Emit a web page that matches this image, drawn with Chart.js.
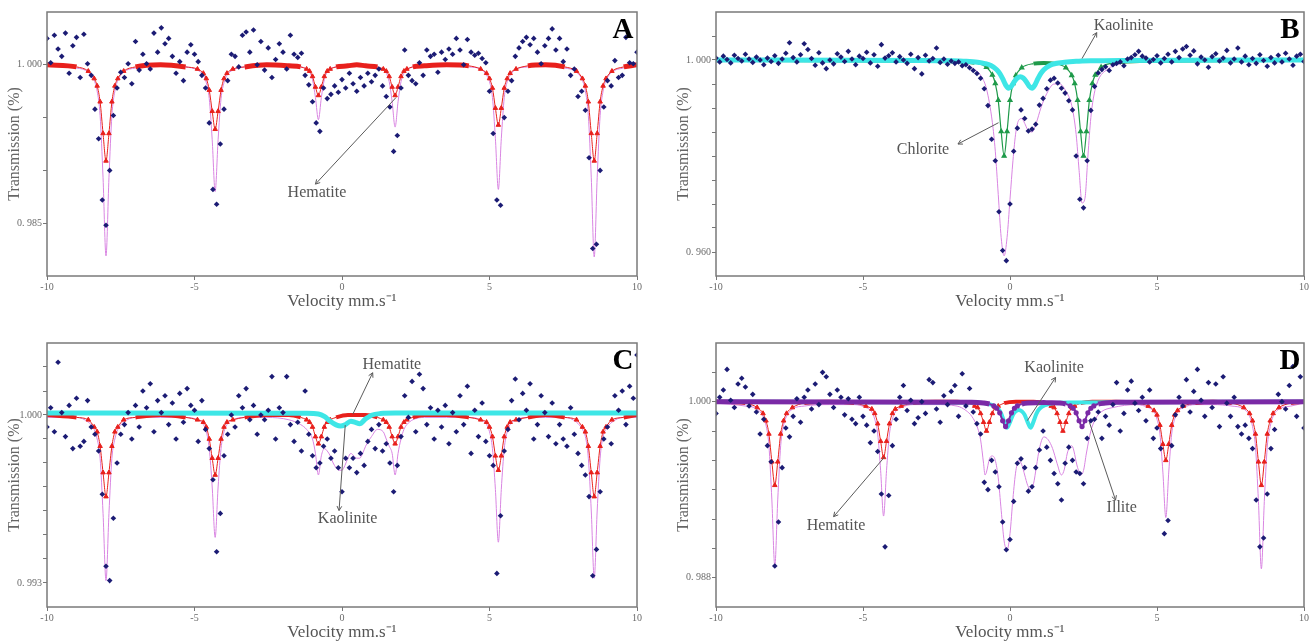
<!DOCTYPE html>
<html><head><meta charset="utf-8">
<script src="https://cdn.jsdelivr.net/npm/chart.js@4.4.1/dist/chart.umd.min.js"></script>
<style>
html,body{margin:0;padding:0;background:#fff;width:1314px;height:644px;overflow:hidden}
canvas{position:absolute}
</style></head><body>
<canvas id="cA" width="645" height="313" style="left:0;top:0"></canvas>
<canvas id="cB" width="645" height="313" style="left:669px;top:0"></canvas>
<canvas id="cC" width="645" height="313" style="left:0;top:331px"></canvas>
<canvas id="cD" width="645" height="313" style="left:669px;top:331px"></canvas>
<script>
// ---------- measured channels (velocity, mm/s) ----------
const velocity = [
-10,-9.875,-9.75,-9.625,-9.5,-9.375,-9.25,-9.125,
-9,-8.875,-8.75,-8.625,-8.5,-8.375,-8.25,-8.125,
-8,-7.875,-7.75,-7.625,-7.5,-7.375,-7.25,-7.125,
-7,-6.875,-6.75,-6.625,-6.5,-6.375,-6.25,-6.125,
-6,-5.875,-5.75,-5.625,-5.5,-5.375,-5.25,-5.125,
-5,-4.875,-4.75,-4.625,-4.5,-4.375,-4.25,-4.125,
-4,-3.875,-3.75,-3.625,-3.5,-3.375,-3.25,-3.125,
-3,-2.875,-2.75,-2.625,-2.5,-2.375,-2.25,-2.125,
-2,-1.875,-1.75,-1.625,-1.5,-1.375,-1.25,-1.125,
-1,-0.875,-0.75,-0.625,-0.5,-0.375,-0.25,-0.125,
0,0.125,0.25,0.375,0.5,0.625,0.75,0.875,
1,1.125,1.25,1.375,1.5,1.625,1.75,1.875,
2,2.125,2.25,2.375,2.5,2.625,2.75,2.875,
3,3.125,3.25,3.375,3.5,3.625,3.75,3.875,
4,4.125,4.25,4.375,4.5,4.625,4.75,4.875,
5,5.125,5.25,5.375,5.5,5.625,5.75,5.875,
6,6.125,6.25,6.375,6.5,6.625,6.75,6.875,
7,7.125,7.25,7.375,7.5,7.625,7.75,7.875,
8,8.125,8.25,8.375,8.5,8.625,8.75,8.875,
9,9.125,9.25,9.375,9.5,9.625,9.75,9.875,
10];

// ---------- measured transmission ----------
const measuredA = [
1.0025,1.0002,1.0028,1.0015,1.0008,1.0030,0.9992,1.0018,
1.0026,0.9988,1.0029,1.0001,0.9990,0.9958,0.9930,0.9872,
0.9848,0.9900,0.9952,0.9978,0.9993,0.9988,1.0001,0.9982,
1.0022,0.9995,1.0010,1.0001,0.9996,1.0030,1.0012,1.0035,
1.0020,1.0025,1.0008,0.9992,1.0003,0.9985,1.0012,1.0019,
1.0010,1.0003,0.9990,0.9978,0.9945,0.9882,0.9868,0.9925,
0.9958,0.9985,1.0010,1.0008,0.9998,1.0028,1.0031,1.0012,
1.0033,1.0000,1.0022,0.9995,1.0016,0.9988,1.0005,1.0020,
1.0012,0.9996,1.0028,1.0010,1.0007,1.0011,0.9990,0.9981,
0.9965,0.9945,0.9937,0.9978,0.9968,0.9972,0.9980,0.9974,
0.9986,0.9978,0.9992,0.9982,0.9975,0.9988,0.9980,0.9992,
0.9984,0.9990,0.9996,0.9980,0.9970,0.9960,0.9918,0.9933,
0.9978,1.0014,0.9990,0.9985,0.9982,1.0002,0.9990,1.0014,
1.0008,1.0010,0.9993,1.0012,1.0005,1.0015,1.0010,1.0025,
1.0014,1.0000,1.0024,1.0012,1.0009,1.0011,1.0006,1.0002,
0.9975,0.9935,0.9872,0.9867,0.9950,0.9975,0.9985,1.0008,
1.0016,1.0022,1.0026,1.0019,1.0025,1.0012,1.0001,1.0018,
1.0025,1.0034,1.0014,1.0025,1.0003,1.0015,0.9990,0.9996,
0.9970,0.9975,0.9957,0.9912,0.9826,0.9830,0.9900,0.9960,
0.9985,0.9980,1.0004,0.9988,0.9990,1.0026,1.0002,1.0001,
1.0012];
const measuredB = [
1.0004,0.9996,1.0008,1.0001,0.9994,1.0010,1.0003,0.9998,
1.0012,1.0002,0.9995,1.0006,1.0000,0.9990,1.0004,0.9997,
1.0009,0.9993,1.0002,1.0014,1.0036,1.0005,0.9996,1.0011,
1.0034,1.0022,1.0003,0.9989,1.0015,0.9994,0.9982,1.0000,
0.9992,1.0013,1.0006,0.9997,1.0018,1.0002,0.9990,1.0008,
1.0003,1.0016,0.9994,1.0011,0.9987,1.0032,1.0004,1.0009,
1.0015,0.9996,1.0007,1.0000,0.9993,1.0012,0.9982,1.0005,
0.9971,1.0010,0.9998,1.0003,1.0025,0.9995,1.0002,0.9991,
0.9998,0.9993,0.9996,0.9988,0.9990,0.9984,0.9978,0.9972,
0.9962,0.9940,0.9905,0.9835,0.9790,0.9684,0.9603,0.9582,
0.9700,0.9810,0.9858,0.9896,0.9878,0.9852,0.9856,0.9866,
0.9906,0.9920,0.9940,0.9958,0.9962,0.9952,0.9941,0.9931,
0.9915,0.9896,0.9800,0.9710,0.9692,0.9790,0.9895,0.9945,
0.9973,0.9980,0.9986,0.9978,0.9990,0.9993,0.9996,0.9988,
1.0002,1.0005,1.0011,1.0018,1.0008,1.0004,0.9996,1.0001,
1.0009,0.9994,1.0003,1.0012,0.9996,1.0018,1.0005,1.0023,
1.0028,1.0010,1.0019,0.9992,1.0006,1.0000,0.9985,1.0007,
1.0013,0.9998,1.0004,1.0020,0.9994,1.0002,1.0025,0.9996,
1.0008,0.9990,1.0003,0.9993,1.0011,0.9999,0.9987,1.0005,
0.9994,1.0010,0.9996,1.0014,1.0002,0.9989,1.0008,1.0012,
0.9997];
const measuredC = [
0.9995,1.0003,0.9993,1.0022,1.0001,0.9991,1.0004,0.9986,
1.0007,0.9987,0.9989,1.0006,0.9995,0.9992,0.9985,0.9967,
0.9937,0.9931,0.9957,0.9980,0.9992,0.9996,1.0001,0.9990,
1.0004,0.9995,1.0010,1.0003,1.0013,0.9993,1.0006,1.0001,
1.0008,0.9996,1.0005,0.9990,1.0009,0.9997,1.0011,1.0004,
1.0002,0.9989,1.0006,0.9994,0.9986,0.9973,0.9943,0.9959,
0.9983,0.9992,1.0000,0.9995,1.0008,1.0003,1.0011,0.9998,
1.0004,0.9992,1.0000,0.9998,1.0002,1.0016,0.9990,1.0003,
1.0001,1.0016,0.9996,0.9989,0.9997,0.9985,1.0010,0.9992,
0.9983,0.9978,0.9980,0.9987,0.9990,0.9982,0.9985,0.9978,
0.9968,0.9982,0.9978,0.9982,0.9976,0.9984,0.9979,0.9989,
0.9994,0.9986,0.9996,0.9985,0.9988,0.9980,0.9968,0.9979,
0.9991,1.0008,0.9999,1.0014,0.9993,1.0017,1.0011,0.9996,
1.0003,0.9990,1.0002,0.9995,1.0004,0.9988,1.0001,0.9993,
1.0008,0.9996,1.0012,0.9984,1.0002,0.9991,1.0005,0.9989,
0.9983,0.9979,0.9934,0.9958,0.9985,0.9994,1.0006,1.0015,
0.9998,1.0009,1.0002,1.0013,0.9990,0.9996,1.0008,1.0001,
0.9991,1.0005,0.9988,0.9996,0.9990,0.9987,1.0003,0.9992,
0.9984,0.9979,0.9975,0.9966,0.9933,0.9944,0.9968,0.9990,
0.9995,0.9988,1.0008,1.0002,1.0010,0.9996,1.0012,1.0007,
1.0025];
const measuredD = [
0.9992,1.0003,1.0008,1.0022,1.0001,0.9996,1.0012,1.0016,
1.0010,0.9997,1.0005,0.9993,0.9978,0.9988,0.9970,0.9959,
0.9888,0.9918,0.9955,0.9982,0.9976,0.9990,1.0002,0.9986,
1.0003,1.0008,0.9995,1.0012,0.9998,1.0020,1.0017,1.0005,
0.9996,1.0008,1.0003,0.9991,1.0002,0.9988,0.9985,1.0003,
0.9990,0.9984,0.9972,0.9980,0.9966,0.9937,0.9901,0.9936,
0.9970,0.9988,1.0003,1.0011,0.9994,1.0001,0.9985,0.9989,
1.0000,0.9992,1.0015,1.0013,0.9995,0.9986,1.0004,0.9998,
1.0007,1.0011,0.9990,1.0019,0.9997,1.0009,0.9993,0.9985,
0.9978,0.9945,0.9940,0.9960,0.9952,0.9942,0.9918,0.9899,
0.9906,0.9932,0.9958,0.9961,0.9955,0.9939,0.9942,0.9955,
0.9967,0.9980,0.9969,0.9960,0.9951,0.9944,0.9933,0.9958,
0.9969,0.9960,0.9952,0.9951,0.9944,0.9975,0.9987,0.9988,
0.9993,0.9975,0.9990,0.9984,0.9998,1.0013,0.9980,0.9992,
1.0008,1.0014,0.9999,0.9994,1.0003,0.9987,1.0008,0.9975,
0.9982,0.9968,0.9910,0.9919,0.9970,0.9991,1.0003,0.9997,
1.0015,0.9993,1.0007,1.0022,1.0001,0.9990,1.0013,0.9996,
1.0012,0.9983,1.0017,0.9999,0.9990,1.0003,0.9983,0.9978,
0.9984,0.9975,0.9968,0.9933,0.9901,0.9907,0.9937,0.9968,
0.9981,1.0005,1.0000,0.9995,1.0011,1.0024,0.9990,1.0017,
0.9982];

// ---------- fitted sub-spectra ----------
const hemX = [-10,
 -9.0,-8.6,-8.4,-8.3,-8.2,-8.1,-8.0,-7.9,-7.8,-7.7,-7.6,-7.4,-7.0,
 -6.15,
 -5.3,-4.9,-4.7,-4.6,-4.5,-4.4,-4.3,-4.2,-4.1,-4.0,-3.9,-3.7,-3.3,
 -2.55,
 -1.8,-1.4,-1.2,-1.1,-1.0,-0.9,-0.8,-0.7,-0.6,-0.5,-0.4,-0.2,0.2,
 0.5,
 0.8,1.2,1.4,1.5,1.6,1.7,1.8,1.9,2.0,2.1,2.2,2.4,2.8,
 3.55,
 4.3,4.7,4.9,5.0,5.1,5.2,5.3,5.4,5.5,5.6,5.7,5.9,6.3,
 6.9,
 7.55,7.95,8.15,8.25,8.35,8.45,8.55,8.65,8.75,8.85,8.95,9.15,9.55,
 10];
const hematiteA = [1,
 0.9998,0.9994,0.9987,0.9980,0.9965,0.9935,0.9909,0.9935,0.9965,0.9980,0.9987,0.9994,0.9998,
 1,
 0.9998,0.9996,0.9992,0.9987,0.9976,0.9956,0.9939,0.9956,0.9976,0.9987,0.9992,0.9996,0.9998,
 1,
 0.9999,0.9998,0.9996,0.9994,0.9989,0.9979,0.9971,0.9979,0.9989,0.9994,0.9996,0.9998,0.9999,
 1,
 0.9999,0.9998,0.9996,0.9994,0.9989,0.9979,0.9971,0.9979,0.9989,0.9994,0.9996,0.9998,0.9999,
 1,
 0.9999,0.9996,0.9992,0.9987,0.9978,0.9959,0.9943,0.9959,0.9978,0.9987,0.9992,0.9996,0.9999,
 1,
 0.9998,0.9994,0.9987,0.9980,0.9965,0.9935,0.9909,0.9935,0.9965,0.9980,0.9987,0.9994,0.9998,
 1];
const totalFitA = [1,
 0.9997,0.9993,0.9985,0.9975,0.9952,0.9893,0.9819,0.9893,0.9952,0.9975,0.9985,0.9993,0.9997,
 1,
 0.9998,0.9995,0.9990,0.9983,0.9968,0.9929,0.9880,0.9929,0.9968,0.9983,0.9990,0.9995,0.9998,
 1,
 0.9999,0.9998,0.9996,0.9993,0.9986,0.9969,0.9948,0.9969,0.9986,0.9993,0.9996,0.9998,0.9999,
 1,
 0.9999,0.9998,0.9995,0.9992,0.9984,0.9965,0.9941,0.9965,0.9984,0.9992,0.9995,0.9998,0.9999,
 1,
 0.9998,0.9996,0.9990,0.9984,0.9969,0.9930,0.9882,0.9930,0.9969,0.9984,0.9990,0.9996,0.9998,
 1,
 0.9997,0.9993,0.9985,0.9975,0.9952,0.9893,0.9818,0.9893,0.9952,0.9975,0.9985,0.9993,0.9997,
 1];
const hematiteC = [1,
 0.9999,0.9998,0.9995,0.9993,0.9987,0.9976,0.9966,0.9976,0.9987,0.9993,0.9995,0.9998,0.9999,
 1,
 0.9999,0.9998,0.9997,0.9995,0.9990,0.9982,0.9975,0.9982,0.9990,0.9995,0.9997,0.9998,0.9999,
 1,
 1,0.9999,0.9998,0.9997,0.9995,0.9991,0.9988,0.9991,0.9995,0.9997,0.9998,0.9999,1,
 1,
 1,0.9999,0.9998,0.9997,0.9995,0.9991,0.9988,0.9991,0.9995,0.9997,0.9998,0.9999,1,
 1,
 0.9999,0.9998,0.9997,0.9995,0.9991,0.9983,0.9977,0.9983,0.9991,0.9995,0.9997,0.9998,0.9999,
 1,
 0.9999,0.9998,0.9995,0.9993,0.9987,0.9976,0.9966,0.9976,0.9987,0.9993,0.9995,0.9998,0.9999,
 1];
const hematiteD = [1,
 0.9999,0.9996,0.9992,0.9987,0.9978,0.9959,0.9943,0.9959,0.9978,0.9987,0.9992,0.9996,0.9999,
 1,
 0.9999,0.9997,0.9995,0.9992,0.9985,0.9973,0.9962,0.9973,0.9985,0.9992,0.9995,0.9997,0.9999,
 1,
 1,0.9999,0.9997,0.9996,0.9992,0.9986,0.9980,0.9986,0.9992,0.9996,0.9997,0.9999,1,
 1,
 1,0.9999,0.9997,0.9996,0.9992,0.9986,0.9980,0.9986,0.9992,0.9996,0.9997,0.9999,1,
 1,
 0.9999,0.9997,0.9994,0.9991,0.9984,0.9971,0.9960,0.9971,0.9984,0.9991,0.9994,0.9997,0.9999,
 1,
 0.9999,0.9996,0.9992,0.9987,0.9978,0.9959,0.9943,0.9959,0.9978,0.9987,0.9992,0.9996,0.9999,
 1];

const totalFitCX = [-10,
 -9.0,-8.6,-8.4,-8.3,-8.2,-8.1,-8.0,-7.9,-7.8,-7.7,-7.6,-7.4,-7.0,
 -6.15,
 -5.3,-4.9,-4.7,-4.6,-4.5,-4.4,-4.3,-4.2,-4.1,-4.0,-3.9,-3.7,-3.3,
 -2.55,
 -1.8,-1.4,-1.2,-1.0,-0.9,-0.8,-0.7,-0.6,-0.5,-0.4,-0.3,-0.2,-0.1,0.0,0.1,0.2,0.3,0.4,0.5,0.6,0.7,0.8,1.0,1.2,1.4,1.5,1.6,1.7,1.8,1.9,2.0,2.1,2.2,2.4,2.8,
 3.55,
 4.3,4.7,4.9,5.0,5.1,5.2,5.3,5.4,5.5,5.6,5.7,5.9,6.3,
 6.9,
 7.55,7.95,8.15,8.25,8.35,8.45,8.55,8.65,8.75,8.85,8.95,9.15,9.55,
 10];
const totalFitC = [0.9999,
 0.9999,0.9997,0.9994,0.9990,0.9982,0.9959,0.9931,0.9959,0.9982,0.9990,0.9994,0.9997,0.9999,
 0.9999,
 0.9999,0.9998,0.9996,0.9993,0.9986,0.9970,0.9949,0.9970,0.9986,0.9993,0.9996,0.9998,0.9999,
 0.9999,
 0.9998,0.9996,0.9994,0.9990,0.9984,0.9975,0.9983,0.9986,0.9985,0.9983,0.9980,0.9978,0.9977,0.9977,0.9979,0.9982,0.9984,0.9983,0.9982,0.9982,0.9984,0.9987,0.9991,0.9994,0.9993,0.9990,0.9987,0.9984,0.9975,0.9984,0.9990,0.9994,0.9996,0.9998,0.9999,
 0.9999,
 0.9999,0.9998,0.9996,0.9993,0.9986,0.9969,0.9947,0.9969,0.9986,0.9993,0.9996,0.9998,0.9999,
 0.9999,
 0.9999,0.9997,0.9994,0.9991,0.9982,0.9960,0.9932,0.9960,0.9982,0.9991,0.9994,0.9997,0.9999,
 0.9999];
const kaoliniteCX = [-10,-1.2,-0.8,-0.6,-0.4,-0.2,-0.05,0.1,0.3,0.45,0.6,0.8,1.0,1.3,1.8,10];
const kaoliniteC = [1.00008,1.00007,1.00004,0.99994,0.99974,0.99959,0.99954,0.99959,0.99974,0.99969,0.99964,0.99984,0.99999,1.00006,1.00008,1.00008];

const totalFitDX = [-10,
 -9.0,-8.6,-8.4,-8.3,-8.2,-8.1,-8.0,-7.9,-7.8,-7.7,-7.6,-7.4,-7.0,
 -6.15,
 -5.3,-4.9,-4.7,-4.6,-4.5,-4.4,-4.3,-4.2,-4.1,-4.0,-3.9,-3.7,-3.3,
 -2.55,
 -1.8,-1.5,-1.3,-1.1,-1.0,-0.9,-0.85,-0.8,-0.7,-0.6,-0.5,-0.4,-0.3,-0.2,-0.1,0.0,0.1,0.2,0.3,0.4,0.5,0.6,0.7,0.8,0.9,1.0,1.15,1.3,1.45,1.6,1.75,1.85,1.95,2.1,2.3,2.4,2.5,2.6,2.75,2.9,3.1,3.5,
 4.3,4.7,4.9,5.0,5.1,5.2,5.3,5.4,5.5,5.6,5.7,5.9,6.3,
 6.9,
 7.55,7.95,8.15,8.25,8.35,8.45,8.55,8.65,8.75,8.85,8.95,9.15,9.55,
 10];
const totalFitD = [0.9999,
 0.9997,0.9995,0.9990,0.9984,0.9970,0.9933,0.9888,0.9933,0.9970,0.9984,0.9990,0.9995,0.9997,
 0.9998,
 0.9998,0.9996,0.9993,0.9988,0.9978,0.9953,0.9922,0.9953,0.9978,0.9988,0.9993,0.9996,0.9998,
 0.9998,
 0.9997,0.9994,0.9990,0.9982,0.9974,0.9958,0.9950,0.9952,0.9961,0.9963,0.9960,0.9948,0.9926,0.9905,0.9899,0.9910,0.9934,0.9953,0.9960,0.9957,0.9950,0.9943,0.9940,0.9944,0.9956,0.9968,0.9976,0.9974,0.9968,0.9958,0.9950,0.9954,0.9965,0.9970,0.9955,0.9950,0.9953,0.9965,0.9980,0.9988,0.9993,0.9996,
 0.9998,0.9996,0.9993,0.9988,0.9978,0.9952,0.9921,0.9952,0.9978,0.9988,0.9993,0.9996,0.9998,
 0.9998,
 0.9997,0.9995,0.9990,0.9983,0.9969,0.9932,0.9886,0.9932,0.9969,0.9983,0.9990,0.9995,0.9997,
 0.9999];
const kaoliniteDX = [-10,-1.2,-0.8,-0.6,-0.4,-0.3,-0.2,-0.1,0.0,0.1,0.2,0.3,0.4,0.5,0.6,0.7,0.8,0.9,1.0,1.2,1.5,2.0,10];
const kaoliniteD = [1.0,0.99994,0.99987,0.99977,0.99951,0.99919,0.99864,0.99822,0.9986,0.9991,0.99935,0.99943,0.99935,0.9991,0.9986,0.99822,0.99864,0.99919,0.99951,0.99977,0.9999,0.99995,1.0];
const illiteDX = [-10,-1.3,-0.9,-0.7,-0.55,-0.45,-0.35,-0.25,-0.15,-0.05,0.05,0.15,0.25,0.4,0.6,1.0,1.15,1.3,1.7,1.9,2.05,2.15,2.25,2.35,2.45,2.55,2.65,2.75,2.85,3.0,3.25,3.6,10];
const illiteD = [1.0,0.99996,0.99991,0.99984,0.99971,0.99955,0.99924,0.9987,0.9983,0.9987,0.99924,0.99955,0.99971,0.99984,0.99991,0.99993,0.99994,0.99993,0.99991,0.99984,0.99971,0.99955,0.99924,0.9987,0.9983,0.9987,0.99924,0.99955,0.99971,0.99984,0.99991,0.99996,1.0];

const chloriteBX = [-10,-1.6,-1.2,-0.8,-0.6,-0.5,-0.4,-0.3,-0.2,-0.1,0.0,0.1,0.2,0.4,0.8,1.15,1.5,1.9,2.1,2.2,2.3,2.4,2.5,2.6,2.7,2.8,2.9,3.1,3.5,4.0,10];
const chloriteB = [1.0,0.9997,0.9994,0.9985,0.9969,0.9951,0.9916,0.9851,0.9800,0.9851,0.9916,0.9951,0.9968,0.9984,0.99924,0.99938,0.99924,0.9984,0.9968,0.9951,0.9916,0.9851,0.9800,0.9851,0.9916,0.9951,0.9969,0.9985,0.9994,0.9997,1.0];
const kaoliniteBX = [-10,-3.0,-2.0,-1.5,-1.1,-0.85,-0.65,-0.45,-0.35,-0.25,-0.15,-0.05,0.05,0.15,0.25,0.35,0.45,0.55,0.65,0.75,0.85,0.95,1.05,1.15,1.35,1.55,1.85,2.25,2.75,3.75,10];
const kaoliniteB = [1.0,0.99992,0.99984,0.99973,0.99953,0.99926,0.99885,0.99798,0.9972,0.9961,0.99483,0.99412,0.99457,0.99554,0.99626,0.99651,0.99626,0.99554,0.99457,0.99412,0.99483,0.9961,0.9972,0.99798,0.99885,0.99926,0.99953,0.99973,0.99984,0.99992,1.0];
const totalFitBX = [-10,-3.0,-2.0,-1.5,-1.2,-1.0,-0.8,-0.6,-0.5,-0.4,-0.3,-0.2,-0.1,0.0,0.1,0.2,0.3,0.4,0.5,0.6,0.75,0.9,1.05,1.25,1.5,1.7,1.9,2.1,2.25,2.35,2.45,2.55,2.65,2.75,2.85,3.0,3.3,3.8,4.5,10];
const totalFitB = [1.0,0.9999,0.9996,0.9990,0.9980,0.9968,0.9940,0.9870,0.9810,0.9720,0.9630,0.9592,0.9630,0.9710,0.9790,0.9850,0.9875,0.9878,0.9868,0.9855,0.9850,0.9870,0.9900,0.9930,0.9950,0.9950,0.9935,0.9905,0.9845,0.9770,0.9702,0.9712,0.9800,0.9880,0.9925,0.9958,0.9980,0.9993,0.9998,1.0];

// ---------- axes ----------
const xTickVals = [-10,-5,0,5,10];
const xTickText = ['-10','-5','0','5','10'];
const yTickValsA = [0.985,0.99,0.995,1.0];
const yTickTextA = ['0. 985','','','1. 000'];
const yTickValsB = [0.96,0.965,0.97,0.975,0.98,0.985,0.99,0.995,1.0,1.005];
const yTickTextB = ['0. 960','','','','','','','','1. 000',''];
const yTickValsC = [0.993,0.994,0.995,0.996,0.997,0.998,0.999,1.0,1.001,1.002];
const yTickTextC = ['0. 993','','','','','','','1.000','',''];
const yTickValsD = [0.988,0.99,0.992,0.994,0.996,0.998,1.0,1.002];
const yTickTextD = ['0. 988','','','','','','1.000',''];

// ---------- styles ----------
const FONT = '"Liberation Serif", "Times New Roman", serif';
const NAVY = '#1b1b74', PINK = '#d985e2', RED = '#e8201c', CYAN = '#3ee6e6', GREEN = '#1f9a4a', PURPLE = '#7a2aa6';
Chart.defaults.font.family = FONT;

function pts(xs, ys) { return xs.map((x, i) => ({x: x, y: ys[i]})); }

function measured(ys) {
  return {label: 'measured', data: pts(velocity, ys), showLine: false, pointStyle: 'rectRot',
    pointRadius: 2.8, backgroundColor: NAVY, borderColor: NAVY, pointBorderWidth: 0, order: 0};
}
function curve(xs, ys, o) {
  return Object.assign({data: pts(xs, ys), showLine: true, cubicInterpolationMode: 'monotone',
    pointRadius: 0, fill: false}, o);
}
function marked(xs, ys, color, thr, style, r, band, thin, order) {
  return curve(xs, ys, {
    borderColor: color, backgroundColor: color, pointBorderColor: color, pointStyle: style,
    borderWidth: thin, order: order,
    pointRadius: c => (c.raw && c.raw.y > thr) ? 0 : r,
    segment: {borderWidth: c => (c.p0.parsed.y > thr && c.p1.parsed.y > thr) ? band : thin}
  });
}

function yAxis(min, max, vals, text) {
  return {type: 'linear', position: 'left', min: min, max: max,
    afterBuildTicks: s => { s.ticks = vals.map(v => ({value: v})); },
    afterFit: s => { s.width = 47; },
    ticks: {callback: (v, i) => text[i], color: '#6a6a6a', font: {size: 10, family: FONT}, padding: 1, autoSkip: false},
    grid: {drawOnChartArea: false, drawTicks: true, tickLength: 4, color: '#777', tickColor: '#777'},
    border: {display: false},
    title: {display: true, text: 'Transmission (%)', color: '#666', font: {size: 16, family: FONT}, padding: {top: 5, bottom: 0}}
  };
}
function xAxis() {
  return {type: 'linear', position: 'bottom', min: -10, max: 10,
    afterBuildTicks: s => { s.ticks = xTickVals.map(v => ({value: v})); },
    afterFit: s => { s.height = 37; },
    ticks: {callback: (v, i) => xTickText[i], color: '#6a6a6a', font: {size: 10, family: FONT}, padding: 1, autoSkip: false, maxRotation: 0},
    grid: {drawOnChartArea: false, drawTicks: true, tickLength: 4, color: '#777', tickColor: '#777'},
    border: {display: false},
    title: {display: true, text: 'Velocity mm.s\u207B\u00B9', color: '#555', font: {size: 17, family: FONT}, padding: {top: 0, bottom: 1}}
  };
}

const decor = {
  id: 'decor',
  afterDatasetsDraw(chart, args, o) {
    const {ctx, chartArea: a} = chart;
    const sx = chart.scales.x, sy = chart.scales.y;
    ctx.save();
    ctx.strokeStyle = '#7a7a7a'; ctx.lineWidth = 1.5;
    ctx.strokeRect(a.left, a.top, a.right - a.left, a.bottom - a.top);
    for (const n of o.notes) {
      const x1 = sx.getPixelForValue(n.x1), y1 = sy.getPixelForValue(n.y1);
      const x2 = sx.getPixelForValue(n.x2), y2 = sy.getPixelForValue(n.y2);
      ctx.strokeStyle = '#5a5a5a'; ctx.lineWidth = 1;
      ctx.beginPath(); ctx.moveTo(x1, y1); ctx.lineTo(x2, y2); ctx.stroke();
      const ang = Math.atan2(y1 - y2, x1 - x2), L = 5;
      ctx.beginPath();
      ctx.moveTo(x1 - L * Math.cos(ang - 0.5), y1 - L * Math.sin(ang - 0.5));
      ctx.lineTo(x1, y1);
      ctx.lineTo(x1 - L * Math.cos(ang + 0.5), y1 - L * Math.sin(ang + 0.5));
      ctx.stroke();
      ctx.fillStyle = '#555'; ctx.font = '16px ' + FONT; ctx.textAlign = 'center'; ctx.textBaseline = 'middle';
      ctx.fillText(n.text, sx.getPixelForValue(n.tx), sy.getPixelForValue(n.ty));
    }
    ctx.fillStyle = '#000'; ctx.font = 'bold 29px ' + FONT; ctx.textAlign = 'center'; ctx.textBaseline = 'middle';
    ctx.fillText(o.letter, a.right - 14, a.top + 19);
    ctx.restore();
  }
};

function panel(id, datasets, ymin, ymax, tv, tt, letter, notes, padRight) {
  new Chart(document.getElementById(id), {
    type: 'scatter',
    data: {datasets: datasets},
    options: {
      responsive: false, animation: false, devicePixelRatio: 1,
      layout: {padding: {top: 12, right: padRight, bottom: 0, left: 0}},
      plugins: {legend: {display: false}, tooltip: {enabled: false}, decor: {letter: letter, notes: notes}},
      scales: {x: xAxis(), y: yAxis(ymin, ymax, tv, tt)}
    },
    plugins: [decor]
  });
}

panel('cA', [
  measured(measuredA),
  marked(hemX, hematiteA, RED, 0.9997, 'triangle', 2.6, 5, 1, 2),
  curve(hemX, totalFitA, {borderColor: PINK, borderWidth: 1, order: 9})
], 0.980, 1.005, yTickValsA, yTickTextA, 'A',
  [{text: 'Hematite', tx: -0.85, ty: 0.98785, x1: -0.9, y1: 0.9887, x2: 1.83, y2: 0.9969}], 8);

panel('cB', [
  measured(measuredB),
  curve(kaoliniteBX, kaoliniteB, {borderColor: CYAN, borderWidth: 5, order: 1}),
  marked(chloriteBX, chloriteB, GREEN, 0.9985, 'triangle', 2.4, 4, 1.2, 2),
  curve(totalFitBX, totalFitB, {borderColor: PINK, borderWidth: 1, order: 9})
], 0.955, 1.010, yTickValsB, yTickTextB, 'B',
  [{text: 'Kaolinite', tx: 3.86, ty: 1.0071, x1: 2.95, y1: 1.0057, x2: 2.45, y2: 1.0003},
   {text: 'Chlorite', tx: -2.96, ty: 0.98125, x1: -1.77, y1: 0.9825, x2: -0.39, y2: 0.98694}], 10);

panel('cC', [
  measured(measuredC),
  curve(kaoliniteCX, kaoliniteC, {borderColor: CYAN, borderWidth: 5, order: 1}),
  marked(hemX, hematiteC, RED, 0.99985, 'triangle', 2.6, 4, 1, 2),
  curve(totalFitCX, totalFitC, {borderColor: PINK, borderWidth: 1, order: 9})
], 0.992, 1.003, yTickValsC, yTickTextC, 'C',
  [{text: 'Hematite', tx: 1.69, ty: 1.00211, x1: 1.04, y1: 1.00176, x2: 0.37, y2: 1.00004},
   {text: 'Kaolinite', tx: 0.19, ty: 0.99568, x1: -0.1, y1: 0.99602, x2: 0.11, y2: 0.99958}], 8);

panel('cD', [
  measured(measuredD),
  marked(illiteDX, illiteD, PURPLE, 0.9998, 'circle', 1.6, 5, 2, 1),
  curve(kaoliniteDX, kaoliniteD, {borderColor: CYAN, borderWidth: 4, order: 2}),
  marked(hemX, hematiteD, RED, 0.9997, 'triangle', 2.6, 4, 1, 3),
  curve(totalFitDX, totalFitD, {borderColor: PINK, borderWidth: 1, order: 9})
], 0.986, 1.004, yTickValsD, yTickTextD, 'D',
  [{text: 'Kaolinite', tx: 1.5, ty: 1.00233, x1: 1.55, y1: 1.00165, x2: 0.59, y2: 0.99871},
   {text: 'Illite', tx: 3.8, ty: 0.99275, x1: 3.59, y1: 0.99329, x2: 2.7, y2: 0.9986},
   {text: 'Hematite', tx: -5.92, ty: 0.99155, x1: -6.0, y1: 0.99216, x2: -4.27, y2: 0.99622}], 10);
</script>
</body></html>
